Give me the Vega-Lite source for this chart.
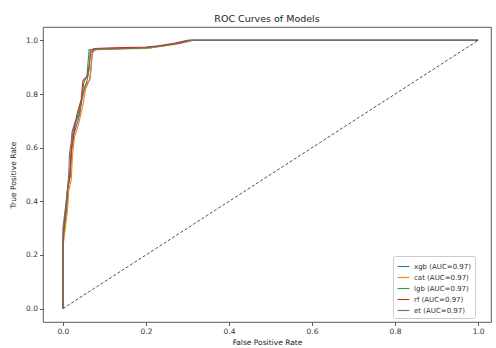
{
  "$schema": "https://vega.github.io/schema/vega-lite/v6.json",
  "autosize": {"type": "none"},
  "width": 448,
  "height": 295,
  "padding": {"left": 43, "top": 27, "right": 5, "bottom": 26},
  "background": "white",
  "config": {
    "font": "DejaVu Sans",
    "view": {"stroke": "#333", "strokeWidth": 0.8},
    "axis": {"domain": false, "grid": false, "tickColor": "#333", "tickSize": 3.5, "tickWidth": 0.8, "labelFontSize": 7.5, "labelColor": "#333", "titleFontSize": 7.5, "titleFontWeight": "normal", "titleColor": "#222", "labelPadding": 2}
  },
  "title": {"text": "ROC Curves of Models", "fontSize": 9.5, "fontWeight": "normal", "color": "#222", "offset": 4, "font": "DejaVu Sans"},
  "datasets": {
    "roc": [
      {"model": "xgb (AUC=0.97)", "i": 0, "fpr": 0, "tpr": 0},
      {"model": "xgb (AUC=0.97)", "i": 1, "fpr": 0, "tpr": 0.24},
      {"model": "xgb (AUC=0.97)", "i": 2, "fpr": 0.01, "tpr": 0.38},
      {"model": "xgb (AUC=0.97)", "i": 3, "fpr": 0.012, "tpr": 0.45},
      {"model": "xgb (AUC=0.97)", "i": 4, "fpr": 0.018, "tpr": 0.5},
      {"model": "xgb (AUC=0.97)", "i": 5, "fpr": 0.021, "tpr": 0.6},
      {"model": "xgb (AUC=0.97)", "i": 6, "fpr": 0.026, "tpr": 0.65},
      {"model": "xgb (AUC=0.97)", "i": 7, "fpr": 0.036, "tpr": 0.7},
      {"model": "xgb (AUC=0.97)", "i": 8, "fpr": 0.046, "tpr": 0.78},
      {"model": "xgb (AUC=0.97)", "i": 9, "fpr": 0.053, "tpr": 0.83},
      {"model": "xgb (AUC=0.97)", "i": 10, "fpr": 0.064, "tpr": 0.85},
      {"model": "xgb (AUC=0.97)", "i": 11, "fpr": 0.068, "tpr": 0.9},
      {"model": "xgb (AUC=0.97)", "i": 12, "fpr": 0.071, "tpr": 0.96},
      {"model": "xgb (AUC=0.97)", "i": 13, "fpr": 0.082, "tpr": 0.967},
      {"model": "xgb (AUC=0.97)", "i": 14, "fpr": 0.16, "tpr": 0.97},
      {"model": "xgb (AUC=0.97)", "i": 15, "fpr": 0.21, "tpr": 0.972},
      {"model": "xgb (AUC=0.97)", "i": 16, "fpr": 0.25, "tpr": 0.982},
      {"model": "xgb (AUC=0.97)", "i": 17, "fpr": 0.29, "tpr": 0.992},
      {"model": "xgb (AUC=0.97)", "i": 18, "fpr": 0.312, "tpr": 1},
      {"model": "xgb (AUC=0.97)", "i": 19, "fpr": 1, "tpr": 1},
      {"model": "cat (AUC=0.97)", "i": 0, "fpr": 0, "tpr": 0},
      {"model": "cat (AUC=0.97)", "i": 1, "fpr": 0, "tpr": 0.23},
      {"model": "cat (AUC=0.97)", "i": 2, "fpr": 0.011, "tpr": 0.37},
      {"model": "cat (AUC=0.97)", "i": 3, "fpr": 0.014, "tpr": 0.44},
      {"model": "cat (AUC=0.97)", "i": 4, "fpr": 0.02, "tpr": 0.48},
      {"model": "cat (AUC=0.97)", "i": 5, "fpr": 0.023, "tpr": 0.57},
      {"model": "cat (AUC=0.97)", "i": 6, "fpr": 0.028, "tpr": 0.64},
      {"model": "cat (AUC=0.97)", "i": 7, "fpr": 0.038, "tpr": 0.69},
      {"model": "cat (AUC=0.97)", "i": 8, "fpr": 0.048, "tpr": 0.76},
      {"model": "cat (AUC=0.97)", "i": 9, "fpr": 0.055, "tpr": 0.82},
      {"model": "cat (AUC=0.97)", "i": 10, "fpr": 0.066, "tpr": 0.86},
      {"model": "cat (AUC=0.97)", "i": 11, "fpr": 0.07, "tpr": 0.95},
      {"model": "cat (AUC=0.97)", "i": 12, "fpr": 0.077, "tpr": 0.965},
      {"model": "cat (AUC=0.97)", "i": 13, "fpr": 0.14, "tpr": 0.968},
      {"model": "cat (AUC=0.97)", "i": 14, "fpr": 0.2, "tpr": 0.97},
      {"model": "cat (AUC=0.97)", "i": 15, "fpr": 0.24, "tpr": 0.978},
      {"model": "cat (AUC=0.97)", "i": 16, "fpr": 0.28, "tpr": 0.988},
      {"model": "cat (AUC=0.97)", "i": 17, "fpr": 0.31, "tpr": 1},
      {"model": "cat (AUC=0.97)", "i": 18, "fpr": 1, "tpr": 1},
      {"model": "lgb (AUC=0.97)", "i": 0, "fpr": 0, "tpr": 0},
      {"model": "lgb (AUC=0.97)", "i": 1, "fpr": 0, "tpr": 0.25},
      {"model": "lgb (AUC=0.97)", "i": 2, "fpr": 0.008, "tpr": 0.38},
      {"model": "lgb (AUC=0.97)", "i": 3, "fpr": 0.012, "tpr": 0.46},
      {"model": "lgb (AUC=0.97)", "i": 4, "fpr": 0.017, "tpr": 0.49},
      {"model": "lgb (AUC=0.97)", "i": 5, "fpr": 0.02, "tpr": 0.59},
      {"model": "lgb (AUC=0.97)", "i": 6, "fpr": 0.024, "tpr": 0.66},
      {"model": "lgb (AUC=0.97)", "i": 7, "fpr": 0.034, "tpr": 0.71},
      {"model": "lgb (AUC=0.97)", "i": 8, "fpr": 0.045, "tpr": 0.78},
      {"model": "lgb (AUC=0.97)", "i": 9, "fpr": 0.05, "tpr": 0.84},
      {"model": "lgb (AUC=0.97)", "i": 10, "fpr": 0.058, "tpr": 0.87},
      {"model": "lgb (AUC=0.97)", "i": 11, "fpr": 0.063, "tpr": 0.965},
      {"model": "lgb (AUC=0.97)", "i": 12, "fpr": 0.078, "tpr": 0.968},
      {"model": "lgb (AUC=0.97)", "i": 13, "fpr": 0.15, "tpr": 0.97},
      {"model": "lgb (AUC=0.97)", "i": 14, "fpr": 0.2, "tpr": 0.973},
      {"model": "lgb (AUC=0.97)", "i": 15, "fpr": 0.24, "tpr": 0.98},
      {"model": "lgb (AUC=0.97)", "i": 16, "fpr": 0.28, "tpr": 0.99},
      {"model": "lgb (AUC=0.97)", "i": 17, "fpr": 0.305, "tpr": 1},
      {"model": "lgb (AUC=0.97)", "i": 18, "fpr": 1, "tpr": 1},
      {"model": "rf (AUC=0.97)", "i": 0, "fpr": 0, "tpr": 0},
      {"model": "rf (AUC=0.97)", "i": 1, "fpr": 0, "tpr": 0.27},
      {"model": "rf (AUC=0.97)", "i": 2, "fpr": 0.007, "tpr": 0.38},
      {"model": "rf (AUC=0.97)", "i": 3, "fpr": 0.01, "tpr": 0.43},
      {"model": "rf (AUC=0.97)", "i": 4, "fpr": 0.016, "tpr": 0.49},
      {"model": "rf (AUC=0.97)", "i": 5, "fpr": 0.02, "tpr": 0.58},
      {"model": "rf (AUC=0.97)", "i": 6, "fpr": 0.026, "tpr": 0.65},
      {"model": "rf (AUC=0.97)", "i": 7, "fpr": 0.033, "tpr": 0.72},
      {"model": "rf (AUC=0.97)", "i": 8, "fpr": 0.044, "tpr": 0.78},
      {"model": "rf (AUC=0.97)", "i": 9, "fpr": 0.048, "tpr": 0.85},
      {"model": "rf (AUC=0.97)", "i": 10, "fpr": 0.06, "tpr": 0.87},
      {"model": "rf (AUC=0.97)", "i": 11, "fpr": 0.067, "tpr": 0.955},
      {"model": "rf (AUC=0.97)", "i": 12, "fpr": 0.075, "tpr": 0.97},
      {"model": "rf (AUC=0.97)", "i": 13, "fpr": 0.12, "tpr": 0.972},
      {"model": "rf (AUC=0.97)", "i": 14, "fpr": 0.2, "tpr": 0.975},
      {"model": "rf (AUC=0.97)", "i": 15, "fpr": 0.23, "tpr": 0.98},
      {"model": "rf (AUC=0.97)", "i": 16, "fpr": 0.27, "tpr": 0.99},
      {"model": "rf (AUC=0.97)", "i": 17, "fpr": 0.3, "tpr": 1},
      {"model": "rf (AUC=0.97)", "i": 18, "fpr": 1, "tpr": 1},
      {"model": "et (AUC=0.97)", "i": 0, "fpr": 0, "tpr": 0},
      {"model": "et (AUC=0.97)", "i": 1, "fpr": 0, "tpr": 0.3},
      {"model": "et (AUC=0.97)", "i": 2, "fpr": 0.008, "tpr": 0.4},
      {"model": "et (AUC=0.97)", "i": 3, "fpr": 0.014, "tpr": 0.5},
      {"model": "et (AUC=0.97)", "i": 4, "fpr": 0.016, "tpr": 0.58},
      {"model": "et (AUC=0.97)", "i": 5, "fpr": 0.02, "tpr": 0.62},
      {"model": "et (AUC=0.97)", "i": 6, "fpr": 0.022, "tpr": 0.66},
      {"model": "et (AUC=0.97)", "i": 7, "fpr": 0.03, "tpr": 0.7},
      {"model": "et (AUC=0.97)", "i": 8, "fpr": 0.04, "tpr": 0.72},
      {"model": "et (AUC=0.97)", "i": 9, "fpr": 0.045, "tpr": 0.78},
      {"model": "et (AUC=0.97)", "i": 10, "fpr": 0.052, "tpr": 0.82},
      {"model": "et (AUC=0.97)", "i": 11, "fpr": 0.058, "tpr": 0.85},
      {"model": "et (AUC=0.97)", "i": 12, "fpr": 0.064, "tpr": 0.9},
      {"model": "et (AUC=0.97)", "i": 13, "fpr": 0.066, "tpr": 0.965},
      {"model": "et (AUC=0.97)", "i": 14, "fpr": 0.08, "tpr": 0.968},
      {"model": "et (AUC=0.97)", "i": 15, "fpr": 0.15, "tpr": 0.97},
      {"model": "et (AUC=0.97)", "i": 16, "fpr": 0.2, "tpr": 0.973},
      {"model": "et (AUC=0.97)", "i": 17, "fpr": 0.24, "tpr": 0.98},
      {"model": "et (AUC=0.97)", "i": 18, "fpr": 0.28, "tpr": 0.99},
      {"model": "et (AUC=0.97)", "i": 19, "fpr": 0.305, "tpr": 1},
      {"model": "et (AUC=0.97)", "i": 20, "fpr": 1, "tpr": 1}
    ],
    "diag": [
      {"fpr": 0, "tpr": 0},
      {"fpr": 1, "tpr": 1}
    ]
  },
  "layer": [
    {
      "data": {"name": "diag"},
      "mark": {"type": "line", "color": "#222", "strokeDash": [3, 2], "strokeWidth": 0.8},
      "encoding": {
        "x": {"field": "fpr", "type": "quantitative"},
        "y": {"field": "tpr", "type": "quantitative"}
      }
    },
    {
      "data": {"name": "roc"},
      "mark": {"type": "line", "strokeWidth": 1.1},
      "encoding": {
        "x": {"field": "fpr", "type": "quantitative", "title": "False Positive Rate",
              "scale": {"domain": [-0.048, 1.031], "nice": false, "zero": false},
              "axis": {"values": [0, 0.2, 0.4, 0.6, 0.8, 1.0], "format": ".1f", "titlePadding": 3}},
        "y": {"field": "tpr", "type": "quantitative", "title": "True Positive Rate",
              "scale": {"domain": [-0.05, 1.05], "nice": false, "zero": false},
              "axis": {"values": [0, 0.2, 0.4, 0.6, 0.8, 1.0], "format": ".1f", "titlePadding": 8}},
        "order": {"field": "i", "type": "quantitative"},
        "color": {"field": "model", "type": "nominal",
                  "scale": {"domain": ["xgb (AUC=0.97)", "cat (AUC=0.97)", "lgb (AUC=0.97)", "rf (AUC=0.97)", "et (AUC=0.97)"],
                            "range": ["#1f77b4", "#ff7f0e", "#2ca02c", "#d62728", "#6f6f6f"]},
                  "legend": {"title": null, "orient": "none", "legendX": 350, "legendY": 229,
                             "symbolType": "stroke", "symbolSize": 140, "symbolStrokeWidth": 1.1,
                             "labelFontSize": 7, "labelColor": "#333", "rowPadding": 1, "padding": 4,
                             "fillColor": "white", "strokeColor": "#ccc", "cornerRadius": 2}}
      }
    }
  ]
}
